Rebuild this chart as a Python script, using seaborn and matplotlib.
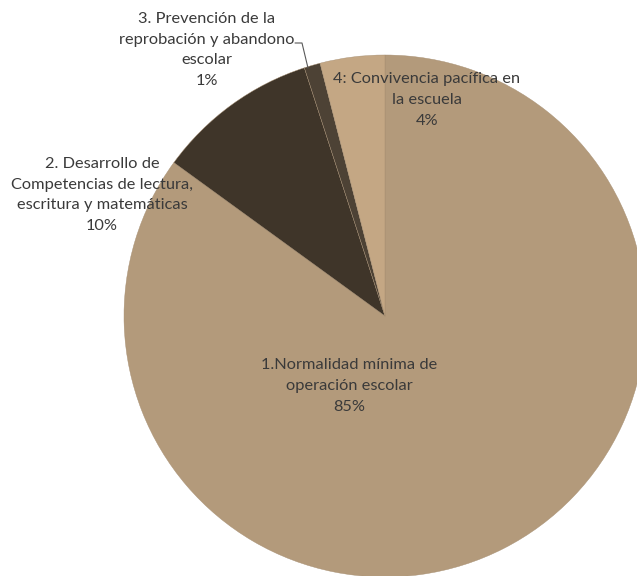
import matplotlib
matplotlib.use("Agg")
import matplotlib.pyplot as plt
import seaborn as sns

sns.set_theme(style="white")
plt.rcParams['font.family'] = ['Lato', 'DejaVu Sans']

categories = [
    "1.Normalidad mínima de\noperación escolar",
    "2. Desarrollo de\nCompetencias de lectura,\nescritura y matemáticas",
    "3. Prevención de la\nreprobación y abandono\nescolar",
    "4: Convivencia pacífica en\nla escuela",
]
values = [85, 10, 1, 4]
pct_labels = ["85%", "10%", "1%", "4%"]
colors = ["#B39A7B", "#3F3529", "#4D4235", "#C4A784"]

W, H = 637, 576
fig = plt.figure(figsize=(W / 100, H / 100), dpi=100)
ax = fig.add_axes([0, 0, 1, 1])
cx, cy, r = 385, 260, 261
ax.pie(values, colors=colors, startangle=90, counterclock=False,
       center=(cx, cy), radius=r,
       wedgeprops=dict(linewidth=0.3, edgecolor="#A58D70"))
ax.set_xlim(0, W)
ax.set_ylim(0, H)
ax.set_aspect("equal")
ax.axis("off")

txt_color = "#3A3A3A"
pos = [(349, 190), (102, 381), (207, 526), (427, 476)]
for cat, p, (x, y) in zip(categories, pct_labels, pos):
    ax.text(x, y, cat + "\n" + p, ha="center", va="center", fontsize=11.8,
            color=txt_color, linespacing=1.62)

ax.plot([295, 302, 308], [533, 533, 508], color="#595959", lw=0.8)

fig.savefig("out.png", dpi=100)
